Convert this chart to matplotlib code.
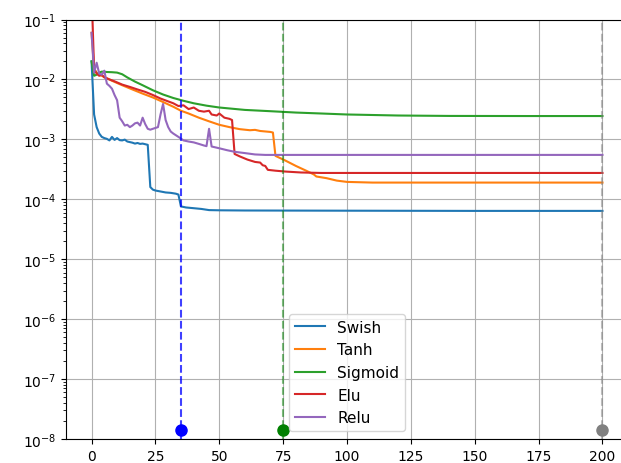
import matplotlib
matplotlib.use("Agg")
import matplotlib.pyplot as plt

# validation loss per epoch for each activation (read at key epochs)
swish_x = [0, 1, 2, 3, 4, 5, 6, 7, 8, 9, 10, 11, 12, 13, 14, 15, 16, 17, 18, 19, 20,
           21, 22, 23, 24, 25, 27, 29, 31, 33, 34, 35, 37, 40, 43, 46, 50, 60, 100, 150, 200]
swish_y = [2.0e-2, 2.6e-3, 1.6e-3, 1.25e-3, 1.1e-3, 1.05e-3, 1.02e-3, 9.6e-4, 1.1e-3, 9.8e-4,
           1.05e-3, 9.7e-4, 9.6e-4, 9.9e-4, 9.2e-4, 9.0e-4, 8.8e-4, 8.5e-4, 8.7e-4, 8.4e-4, 8.5e-4,
           8.3e-4, 8.1e-4, 1.6e-4, 1.45e-4, 1.4e-4, 1.35e-4, 1.3e-4, 1.28e-4, 1.24e-4, 1.2e-4,
           7.6e-5, 7.3e-5, 7.1e-5, 6.9e-5, 6.6e-5, 6.55e-5, 6.5e-5, 6.45e-5, 6.4e-5, 6.4e-5]

tanh_x = [0, 1, 2, 3, 5, 8, 12, 16, 20, 24, 28, 32, 35, 38, 42, 46, 50, 54, 58, 62, 64, 66,
          70, 71, 72, 76, 80, 84, 87, 88, 92, 96, 100, 110, 200]
tanh_y = [6e-2, 1.5e-2, 1.3e-2, 1.2e-2, 1.1e-2, 9.5e-3, 8e-3, 6.8e-3, 5.8e-3, 5e-3, 4.2e-3,
          3.5e-3, 3.0e-3, 2.7e-3, 2.3e-3, 2.0e-3, 1.75e-3, 1.6e-3, 1.48e-3, 1.42e-3, 1.44e-3,
          1.38e-3, 1.33e-3, 1.3e-3, 5.3e-4, 4.4e-4, 3.6e-4, 3.0e-4, 2.6e-4, 2.4e-4, 2.25e-4,
          2.05e-4, 1.95e-4, 1.9e-4, 1.9e-4]

sigmoid_x = [0, 1, 2, 3, 4, 6, 8, 10, 12, 14, 17, 20, 24, 28, 32, 36, 40, 45, 50, 60, 70, 80,
             90, 100, 120, 140, 170, 200]
sigmoid_y = [2e-2, 1.15e-2, 1.2e-2, 1.3e-2, 1.35e-2, 1.33e-2, 1.32e-2, 1.3e-2, 1.22e-2, 1.08e-2,
             9.2e-3, 8e-3, 6.6e-3, 5.6e-3, 4.9e-3, 4.4e-3, 4e-3, 3.65e-3, 3.4e-3, 3.1e-3, 2.95e-3,
             2.8e-3, 2.7e-3, 2.6e-3, 2.5e-3, 2.46e-3, 2.45e-3, 2.45e-3]

elu_x = [0, 1, 2, 3, 4, 5, 7, 9, 12, 15, 18, 21, 24, 27, 30, 32, 34, 36, 38, 40, 42, 44, 46,
         47, 49, 50, 52, 54, 55, 56, 58, 61, 64, 66, 67, 68, 69, 72, 76, 82, 90, 200]
elu_y = [0.3, 1.5e-2, 1.25e-2, 1.15e-2, 1.2e-2, 1.08e-2, 1.0e-2, 9.3e-3, 8.2e-3, 7.5e-3, 6.8e-3,
         6.2e-3, 5.5e-3, 4.8e-3, 4.3e-3, 4.0e-3, 3.6e-3, 3.7e-3, 3.2e-3, 3.4e-3, 3.0e-3, 2.9e-3,
         3.0e-3, 2.6e-3, 2.5e-3, 2.7e-3, 2.3e-3, 2.2e-3, 2.1e-3, 5.7e-4, 5.2e-4, 4.6e-4, 4.2e-4,
         4.1e-4, 3.7e-4, 3.6e-4, 3.1e-4, 3.0e-4, 2.9e-4, 2.8e-4, 2.75e-4, 2.75e-4]

relu_x = [0, 1, 2, 3, 4, 5, 6, 7, 8, 9, 10, 11, 12, 13, 14, 15, 16, 17, 18, 19, 20, 21, 22, 23,
          24, 25, 26, 27, 28, 29, 30, 31, 32, 34, 36, 38, 40, 42, 44, 45, 46, 47, 50, 53, 56, 60,
          64, 68, 200]
relu_y = [6e-2, 1.3e-2, 1.9e-2, 1.25e-2, 1.2e-2, 1.4e-2, 8.5e-3, 7.8e-3, 7e-3, 5.5e-3, 4.5e-3,
          2.3e-3, 2e-3, 1.7e-3, 1.75e-3, 1.6e-3, 1.7e-3, 1.85e-3, 1.9e-3, 1.7e-3, 2.3e-3, 1.8e-3,
          1.5e-3, 1.45e-3, 1.5e-3, 1.55e-3, 1.6e-3, 2.6e-3, 3.9e-3, 2.1e-3, 1.6e-3, 1.35e-3,
          1.25e-3, 1.1e-3, 9.6e-4, 9.2e-4, 8.9e-4, 8.4e-4, 7.9e-4, 7.7e-4, 1.5e-3, 7.6e-4, 7.1e-4,
          6.6e-4, 6.2e-4, 5.9e-4, 5.6e-4, 5.5e-4, 5.5e-4]

# epochs marked with a vertical line
marks = [35, 75, 200]
mark_colors = ['b', 'g', 'gray']
mark_alpha = [0.75, 0.5, 0.5]
mark_y = 1.4e-8

fig = plt.figure(figsize=(6.21, 4.64), dpi=100)
ax = fig.add_axes([66 / 621, 24 / 464, 562 / 621, 419.5 / 464])

ax.plot(swish_x, swish_y, label='Swish')
ax.plot(tanh_x, tanh_y, label='Tanh')
ax.plot(sigmoid_x, sigmoid_y, label='Sigmoid')
ax.plot(elu_x, elu_y, label='Elu')
ax.plot(relu_x, relu_y, label='Relu')

for m, c, a in zip(marks, mark_colors, mark_alpha):
    ax.axvline(m, color=c, linestyle='--', alpha=a)
    ax.plot(m, mark_y, 'o', color=c, markersize=8)

ax.set_yscale('log')
ax.set_ylim(1e-8, 1e-1)
ax.set_xlim(-10, 210)
ax.grid(True)
ax.legend(loc='lower center', fontsize=11)

fig.savefig('out.png', dpi=100)
